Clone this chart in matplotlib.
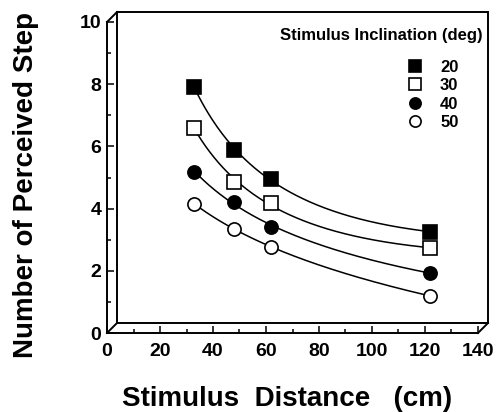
import numpy as np
import matplotlib
matplotlib.use("Agg")
import matplotlib.pyplot as plt
from matplotlib.patches import Rectangle

plt.rcParams['font.family'] = ['Liberation Sans', 'DejaVu Sans']
plt.rcParams['font.weight'] = 'bold'
plt.rcParams['axes.labelweight'] = 'bold'

# distanze dello stimolo (cm) e numero di gradini percepiti
distanza = [33, 48, 62, 122]
incl_20 = [7.9, 5.88, 4.95, 3.25]
incl_30 = [6.59, 4.86, 4.18, 2.73]
incl_40 = [5.18, 4.21, 3.41, 1.93]
incl_50 = [4.15, 3.34, 2.77, 1.19]
etichette = ['20', '30', '40', '50']
tick_x = [0, 20, 40, 60, 80, 100, 120, 140]
tick_y = [0, 2, 4, 6, 8, 10]

serie = [incl_20, incl_30, incl_40, incl_50]
marcatori = [('s', 'black'), ('s', 'white'), ('o', 'black'), ('o', 'white')]

fig = plt.figure(figsize=(4.96, 4.12), dpi=100)
ax = fig.add_axes([107 / 496, 79 / 412, 371 / 496, 311 / 412])

# curve lisce (fit quadratico in log x) + punti
xx = np.linspace(distanza[0], distanza[-1], 200)
lx = np.log(distanza)
for valori, (m, fc), lab in zip(serie, marcatori, etichette):
    coef = np.polyfit(lx, valori, 2)
    ax.plot(xx, np.polyval(coef, np.log(xx)), color='black', lw=1.1, zorder=2)
    ax.plot(distanza, valori, ls='none', marker=m, ms=10 if m == 's' else 9.5,
            mfc=fc, mec='black', mew=1.2, label=lab, zorder=3)

ax.set_xlim(0, 140)
ax.set_ylim(0, 10)
ax.set_xticks(tick_x, labels=[str(t) for t in tick_x], fontweight='bold', fontsize=14)
ax.set_xticks(range(10, 140, 20), minor=True)
ax.set_yticks(tick_y, labels=[str(t) for t in tick_y], fontweight='bold', fontsize=14)
ax.set_yticks(range(1, 10, 2), minor=True)
ax.tick_params(which='both', direction='in', width=1.1)
ax.tick_params(which='major', length=5)
ax.tick_params(which='minor', length=3)
ax.tick_params(axis='y', pad=4)
ax.tick_params(axis='x', pad=7)

for s in ['top', 'right']:
    ax.spines[s].set_visible(False)
for s in ['left', 'bottom']:
    ax.spines[s].set_linewidth(1.4)

# riquadro posteriore (effetto 3D)
dx, dy = 10 / 371, 10 / 311
ax.add_patch(Rectangle((dx, dy), 1, 1, transform=ax.transAxes, fill=False,
                       lw=1.4, ec='black', clip_on=False, zorder=1))
for (x0, y0) in [(0, 0), (0, 1), (1, 0)]:
    ax.plot([x0, x0 + dx], [y0, y0 + dy], transform=ax.transAxes, color='black',
            lw=1.4, clip_on=False)

ax.set_xlabel('Stimulus  Distance   (cm)', fontsize=20)
ax.set_ylabel('Number of Perceived Step', fontsize=20)
ax.xaxis.set_label_coords(0.486, -0.17)
ax.yaxis.set_label_coords(-0.184, 0.476)

ax.text(1.013, 0.958, 'Stimulus Inclination (deg)', transform=ax.transAxes,
        ha='right', va='center', fontsize=12, fontweight='bold')
ax.legend(loc='upper left', bbox_to_anchor=(0.79, 0.905), frameon=False,
          handlelength=0.8, handletextpad=1.1, labelspacing=0.2, markerscale=0.85,
          borderpad=0, prop={'weight': 'bold', 'size': 12})

plt.savefig("out.png", dpi=100)
